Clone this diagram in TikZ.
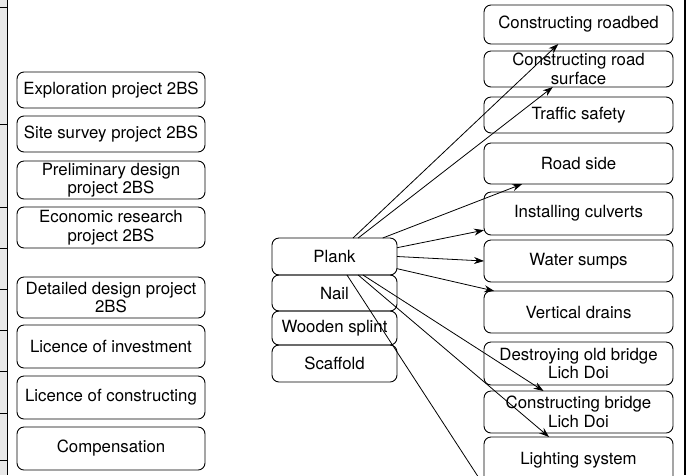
\documentclass[tikz,border=0pt]{standalone}
\usepackage{fontspec}
\setmainfont{TeX Gyre Heros}
\usetikzlibrary{arrows.meta,positioning}

\begin{document}
\begin{tikzpicture}[x=1pt, y=-1pt, font=\fontsize{16.8}{18.5}\selectfont, box/.style={draw, rounded corners=7pt, align=center, inner sep=1pt, outer sep=0pt, line width=0.9pt}, lbox/.style={box, minimum width=188pt}, mbox/.style={box, minimum width=125pt}, rbox/.style={box, minimum width=189pt}, arr/.style={-{Stealth[length=10pt, width=7pt]}, line width=0.8pt}]
\clip (0,0) rectangle (690,475);
\fill[gray!18] (0,0) rectangle (7,475);
\draw[line width=1pt] (7,0) -- (7,475) (0,7) -- (7,7) (0,124) -- (7,124) (0,207) -- (7,207) (0,248) -- (7,248) (0,289) -- (7,289) (0,330) -- (7,330) (0,371) -- (7,371) (0,413) -- (7,413) (0,460) -- (7,460);
\draw[line width=2.2pt] (685,0) -- (685,475);

\node[lbox, minimum height=36pt] (explore) at (111,90) {Exploration project 2BS};
\node[lbox, minimum height=36pt, below=8pt of explore] (survey) {Site survey project 2BS};
\node[lbox, minimum height=38pt, below=9pt of survey] (prelim) {Preliminary design\\project 2BS};
\node[lbox, minimum height=41pt, below=8pt of prelim] (econ) {Economic research\\project 2BS};
\node[lbox, minimum height=41pt, below=29pt of econ] (detail) {Detailed design project\\2BS};
\node[lbox, minimum height=43pt, below=7pt of detail] (licinv) {Licence of investment};
\node[lbox, minimum height=43pt, below=8pt of licinv] (liccon) {Licence of constructing};
\node[lbox, minimum height=43pt, below=8pt of liccon] (comp) {Compensation};

\node[mbox, minimum height=37pt] (plank) at (334.5,256.5) {Plank};
\node[mbox, minimum height=36pt, below=0pt of plank] (nail) {Nail};
\node[mbox, minimum height=34pt, below=0pt of nail] (splint) {Wooden splint};
\node[mbox, minimum height=37pt, below=0pt of splint] (scaffold) {Scaffold};

\node[rbox, minimum height=39pt] (roadbed) at (578.5,24.5) {Constructing roadbed};
\node[rbox, minimum height=36pt, below=7pt of roadbed] (surface) {Constructing road\\surface};
\node[rbox, minimum height=36pt, below=10pt of surface] (safety) {Traffic safety};
\node[rbox, minimum height=41pt, below=10pt of safety] (roadside) {Road side};
\node[rbox, minimum height=43pt, below=8pt of roadside] (culverts) {Installing culverts};
\node[rbox, minimum height=42pt, below=5pt of culverts] (sumps) {Water sumps};
\node[rbox, minimum height=42pt, below=9pt of sumps] (drains) {Vertical drains};
\node[rbox, minimum height=43pt, below=9pt of drains] (oldbridge) {Destroying old bridge\\Lich Doi};
\node[rbox, minimum height=42pt, below=6pt of oldbridge] (newbridge) {Constructing bridge\\Lich Doi};
\node[rbox, minimum height=46pt, below=4pt of newbridge] (lighting) {Lighting system};
\coordinate (offpage) at (490,495);

\draw[arr] (plank.45) -- (roadbed.224);
\draw[arr] (plank.38) -- (surface.215);
\draw[arr] (plank.21) -- (roadside.200);
\draw[arr] (plank.8) -- (culverts.190);
\draw[arr] (plank.east) -- (sumps.west);
\draw[arr] (plank.-11) -- (drains.166);
\draw[arr] (plank.-33) -- (newbridge.149);
\draw[arr] (plank.-38) -- (lighting.142);
\draw[arr] (plank.-56) -- (offpage);
\end{tikzpicture}
\end{document}
